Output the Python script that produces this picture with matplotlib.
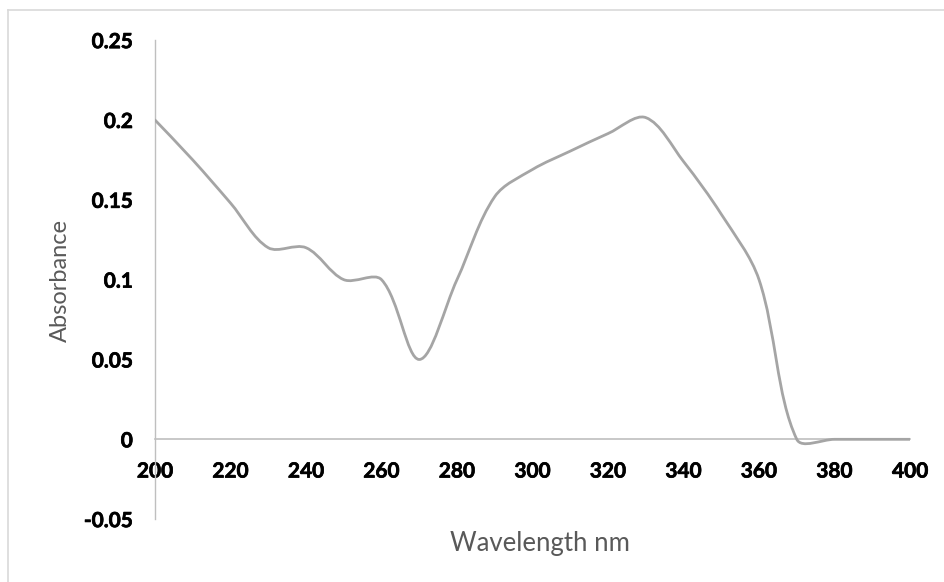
import numpy as np
import matplotlib.pyplot as plt
import matplotlib.patheffects as pe
from matplotlib.path import Path
from matplotlib.patches import PathPatch
from matplotlib.lines import Line2D

# UV-Vis spectrum, read every 10 nm off the picture
wavelength = [200, 210, 220, 230, 240, 250, 260, 270, 280, 290, 300,
              310, 320, 330, 340, 350, 360, 370, 380, 390, 400]
absorbance = [0.2, 0.175, 0.148, 0.12, 0.12, 0.1, 0.1, 0.05, 0.1, 0.152, 0.169,
              0.1805, 0.1915, 0.2015, 0.174, 0.141, 0.1, 0.0, 0.0, 0.0, 0.0]

x_ticks = [200, 220, 240, 260, 280, 300, 320, 340, 360, 380, 400]
y_ticks = [-0.05, 0, 0.05, 0.1, 0.15, 0.2, 0.25]
y_tick_labels = ["-0.05", "0", "0.05", "0.1", "0.15", "0.2", "0.25"]

line_color = "#A5A5A5"
axis_color = "#BFBFBF"
title_color = "#595959"

plt.rcParams['font.family'] = ['Lato', 'DejaVu Sans']

fig = plt.figure(figsize=(9.45, 5.82), dpi=100)
ax = fig.add_axes([0.164, 0.108, 0.799, 0.823])
ax.set_xlim(200, 400)
ax.set_ylim(-0.05, 0.25)

# smoothed line: bezier through the points, control arms scaled by
# the segment lengths on screen (close to a spreadsheet "smoothed line")
pts = np.column_stack([wavelength, absorbance])
scr = ax.transData.transform(pts)
n = len(pts)
verts = [tuple(pts[0])]
codes = [Path.MOVETO]
for i in range(n - 1):
    i0, i3 = max(i - 1, 0), min(i + 2, n - 1)
    d01 = np.hypot(*(scr[i] - scr[i0]))
    d12 = np.hypot(*(scr[i + 1] - scr[i]))
    d23 = np.hypot(*(scr[i3] - scr[i + 1]))
    f1 = d12 / (d01 + d12) / 3 if d01 > 0 else 1 / 6
    f2 = d12 / (d12 + d23) / 3 if d23 > 0 else 1 / 6
    c1 = pts[i] + (pts[i + 1] - pts[i0]) * f1
    c2 = pts[i + 1] - (pts[i3] - pts[i]) * f2
    verts += [tuple(c1), tuple(c2), tuple(pts[i + 1])]
    codes += [Path.CURVE4] * 3
ax.add_patch(PathPatch(Path(verts, codes), fill=False, edgecolor=line_color,
                       lw=2, capstyle="round", joinstyle="round", zorder=3))

ax.spines["top"].set_visible(False)
ax.spines["right"].set_visible(False)
ax.spines["left"].set_color(axis_color)
ax.spines["bottom"].set_color(axis_color)
ax.spines["bottom"].set_position(("data", 0))
ax.spines["left"].set_linewidth(1)
ax.spines["bottom"].set_linewidth(1.2)

ax.set_xticks(x_ticks)
ax.set_yticks(y_ticks, y_tick_labels)
ax.tick_params(axis="both", length=0, labelsize=15)
ax.tick_params(axis="x", pad=16)
ax.tick_params(axis="y", pad=16)
for lbl in ax.get_xticklabels() + ax.get_yticklabels():
    lbl.set_fontweight("bold")
    lbl.set_path_effects([pe.withStroke(linewidth=0.5, foreground="black")])

fig.text(60 / 945, 1 - 280 / 582, "Absorbance", rotation=90, ha="center",
         va="center", fontsize=17, color=title_color)
fig.text(540 / 945, 1 - 543 / 582, "Wavelength nm", ha="center",
         va="center", fontsize=18.5, color=title_color)

# chart area border (cut off at right and bottom)
fig.add_artist(Line2D([8.5 / 945, 8.5 / 945], [0, 1 - 9.5 / 582],
                      transform=fig.transFigure, color="#D9D9D9", lw=1.2))
fig.add_artist(Line2D([8.5 / 945, 1], [1 - 9.5 / 582, 1 - 9.5 / 582],
                      transform=fig.transFigure, color="#D9D9D9", lw=1.2))

fig.savefig("out.png", dpi=100)
